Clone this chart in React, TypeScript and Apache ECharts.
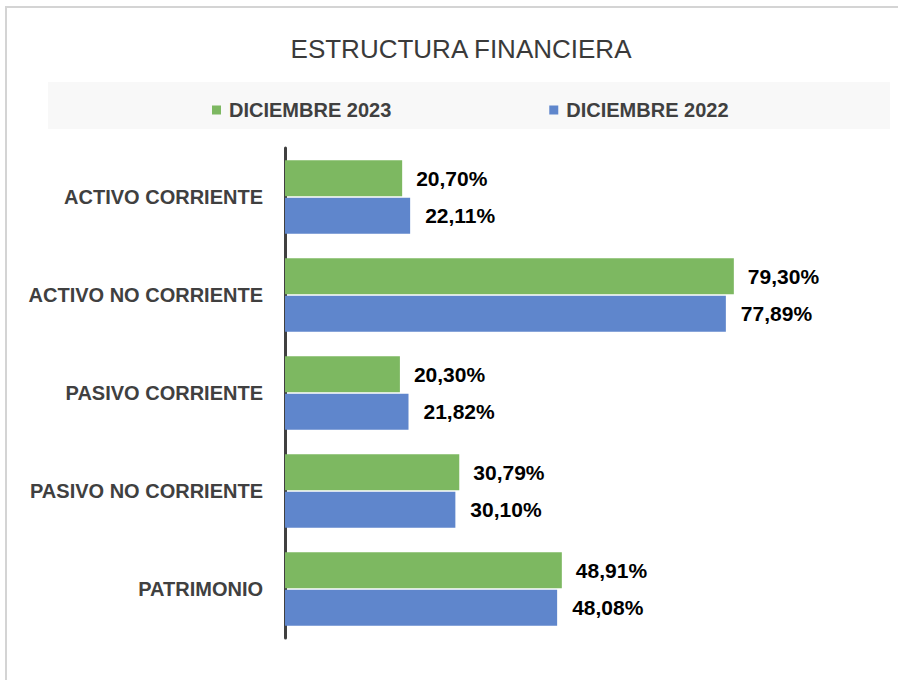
import React, { useEffect, useRef } from "react";
import * as echarts from "echarts";

const categories = [
  "ACTIVO CORRIENTE",
  "ACTIVO NO CORRIENTE",
  "PASIVO CORRIENTE",
  "PASIVO NO CORRIENTE",
  "PATRIMONIO",
];
const dic2023 = [20.7, 79.3, 20.3, 30.79, 48.91];
const dic2022 = [22.11, 77.89, 21.82, 30.1, 48.08];
const seriesNames = ["DICIEMBRE 2023", "DICIEMBRE 2022"];
const titleText = "ESTRUCTURA FINANCIERA";

const FONT = "'Liberation Sans', Arial, sans-serif";

export default function App() {
  const ref = useRef<HTMLDivElement>(null);
  useEffect(() => {
    if (!ref.current) return;
    const chart = echarts.init(ref.current, undefined, { renderer: "svg" });
    const fmt = (p: any) => p.value.toFixed(2).replace(".", ",") + "%";
    const labelStyle = {
      show: true,
      position: "right",
      distance: 14,
      formatter: fmt,
      fontFamily: FONT,
      fontSize: 21,
      fontWeight: "bold",
      color: "#000000",
    };
    chart.setOption({
      animation: false,
      backgroundColor: "#ffffff",
      title: {
        text: titleText,
        left: 461,
        textAlign: "center",
        top: 36,
        padding: 0,
        textStyle: { fontFamily: FONT, fontSize: 26, fontWeight: "normal", color: "#3a3a3a" },
      },
      graphic: [
        {
          type: "rect",
          shape: { x: 6, y: 7, width: 900, height: 700 },
          style: { fill: "none", stroke: "#d4d4d4", lineWidth: 2 },
          z: -10,
        },
        {
          type: "rect",
          shape: { x: 48, y: 82, width: 842, height: 47 },
          style: { fill: "#f8f8f8" },
          z: -5,
        },
      ],
      legend: {
        left: 207,
        top: 95,
        itemWidth: 9,
        itemHeight: 9,
        itemGap: 158,
        icon: "rect",
        data: seriesNames,
        textStyle: { fontFamily: FONT, fontSize: 20, fontWeight: "bold", color: "#404040", padding: [0, 0, 0, 3] },
      },
      grid: { left: 285, right: 47, top: 148, bottom: 42, containLabel: false },
      xAxis: {
        type: "value",
        min: 0,
        max: 100,
        show: false,
      },
      yAxis: {
        type: "category",
        data: categories,
        inverse: true,
        axisLine: { show: true, lineStyle: { color: "#404040", width: 3 } },
        axisTick: { show: false },
        axisLabel: {
          fontFamily: FONT,
          fontSize: 20,
          fontWeight: "bold",
          color: "#404040",
          margin: 22,
        },
      },
      series: [
        {
          name: seriesNames[0],
          type: "bar",
          data: dic2023,
          barWidth: 36,
          barGap: "4%",
          itemStyle: { color: "#7db861" },
          label: labelStyle,
        },
        {
          name: seriesNames[1],
          type: "bar",
          data: dic2022,
          barWidth: 36,
          barGap: "4%",
          itemStyle: { color: "#5f86cc" },
          label: { ...labelStyle, distance: 15 },
        },
      ],
    });
    return () => chart.dispose();
  }, []);
  return (
    <div
      ref={ref}
      style={{ position: "fixed", left: 0, top: 0, width: 898, height: 680 }}
    />
  );
}
